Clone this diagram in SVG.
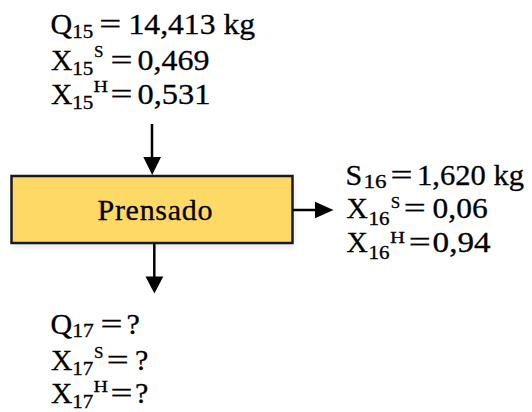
<svg xmlns="http://www.w3.org/2000/svg" width="532" height="412" viewBox="0 0 532 412">
<style>
text{font-family:"Liberation Serif","Times New Roman",serif;fill:#000;stroke:#000;stroke-width:0.3px}
.t{font-size:30px}
.x{font-size:29.5px}
.s{font-size:18px}
.p{font-size:17px}
.box{fill:#FFD966;stroke:#1a1a1a;stroke-width:2.5}
.ln{stroke:#000;stroke-width:2.5;fill:none}
.hd{fill:#000}
</style>
<defs>
<filter id="sh" x="-10%" y="-20%" width="120%" height="160%">
<feGaussianBlur stdDeviation="3"/>
</filter>
</defs>
<g id="in15">
<text class="t" x="50.5" y="34">Q</text>
<text class="s" x="72.3" y="37.5" textLength="21" lengthAdjust="spacingAndGlyphs">15</text>
<text class="t" transform="translate(99.2,34) scale(1.3,1)">=</text>
<text class="t" x="128.5" y="34" font-size="29" style="font-size:29px" textLength="126.5" lengthAdjust="spacingAndGlyphs">14,413 kg</text>
<text class="x" x="51" y="70">X</text>
<text class="s" x="72.3" y="75" textLength="21" lengthAdjust="spacingAndGlyphs">15</text>
<text class="p" x="94" y="57">S</text>
<text class="t" transform="translate(110.4,70) scale(1.3,1)">=</text>
<text class="t" x="137.5" y="70" textLength="72" lengthAdjust="spacingAndGlyphs">0,469</text>
<text class="x" x="51" y="103.5">X</text>
<text class="s" x="72.3" y="109" textLength="21" lengthAdjust="spacingAndGlyphs">15</text>
<text class="p" x="93.5" y="91.7" textLength="14.5" lengthAdjust="spacingAndGlyphs">H</text>
<text class="t" transform="translate(110.4,103.5) scale(1.3,1)">=</text>
<text class="t" x="137.5" y="103.5" textLength="73" lengthAdjust="spacingAndGlyphs">0,531</text>
</g>
<g id="prensado">
<rect x="13" y="180" width="281" height="67" fill="#c9d8ea" opacity="0.6" filter="url(#sh)"/>
<rect class="box" x="11.5" y="176" width="281" height="67"/>
<text class="t" x="97.5" y="220" textLength="115" lengthAdjust="spacing">Prensado</text>
</g>
<g id="out16">
<text class="t" x="345.5" y="185">S</text>
<text class="s" x="363.5" y="187.5" textLength="23" lengthAdjust="spacingAndGlyphs">16</text>
<text class="t" transform="translate(390.4,185) scale(1.3,1)">=</text>
<text class="t" x="417" y="185" textLength="107" lengthAdjust="spacingAndGlyphs">1,620 kg</text>
<text class="x" x="346.4" y="218">X</text>
<text class="s" x="368.5" y="224.5" textLength="21" lengthAdjust="spacingAndGlyphs">16</text>
<text class="p" x="390.7" y="208">S</text>
<text class="t" transform="translate(403.7,218) scale(1.3,1)">=</text>
<text class="t" x="432.6" y="218" textLength="55" lengthAdjust="spacingAndGlyphs">0,06</text>
<text class="x" x="346.4" y="252">X</text>
<text class="s" x="368.5" y="258.5" textLength="21" lengthAdjust="spacingAndGlyphs">16</text>
<text class="p" x="390" y="242.5" textLength="15" lengthAdjust="spacingAndGlyphs">H</text>
<text class="t" transform="translate(408.7,252) scale(1.3,1)">=</text>
<text class="t" x="432.6" y="252" textLength="58" lengthAdjust="spacingAndGlyphs">0,94</text>
</g>
<g id="out17">
<text class="t" x="50.5" y="333.5">Q</text>
<text class="s" x="72.3" y="336.5" textLength="21.5" lengthAdjust="spacingAndGlyphs">17</text>
<text class="t" transform="translate(100.4,333.5) scale(1.3,1)">=</text>
<text class="t" x="126.5" y="333.5">?</text>
<text class="x" x="51" y="369.5">X</text>
<text class="s" x="72.3" y="375" textLength="21" lengthAdjust="spacingAndGlyphs">17</text>
<text class="p" x="94" y="358">S</text>
<text class="t" transform="translate(106.7,369.5) scale(1.3,1)">=</text>
<text class="t" x="135" y="369.5">?</text>
<text class="x" x="51" y="403">X</text>
<text class="s" x="72.3" y="408" textLength="21" lengthAdjust="spacingAndGlyphs">17</text>
<text class="p" x="93.5" y="391.7" textLength="14.5" lengthAdjust="spacingAndGlyphs">H</text>
<text class="t" transform="translate(110.4,403) scale(1.3,1)">=</text>
<text class="t" x="135" y="403">?</text>
</g>
<g id="connectors">
<line class="ln" x1="152" y1="124" x2="152" y2="158"/>
<polygon class="hd" points="143.3,157 161,157 152.2,175"/>
<line class="ln" x1="292.5" y1="210" x2="316" y2="210"/>
<polygon class="hd" points="315,201.7 315,218.3 333.5,210"/>
<line class="ln" x1="154.3" y1="243" x2="154.3" y2="278"/>
<polygon class="hd" points="145.5,276.5 163.3,276.5 154.4,293.5"/>
</g>
</svg>
